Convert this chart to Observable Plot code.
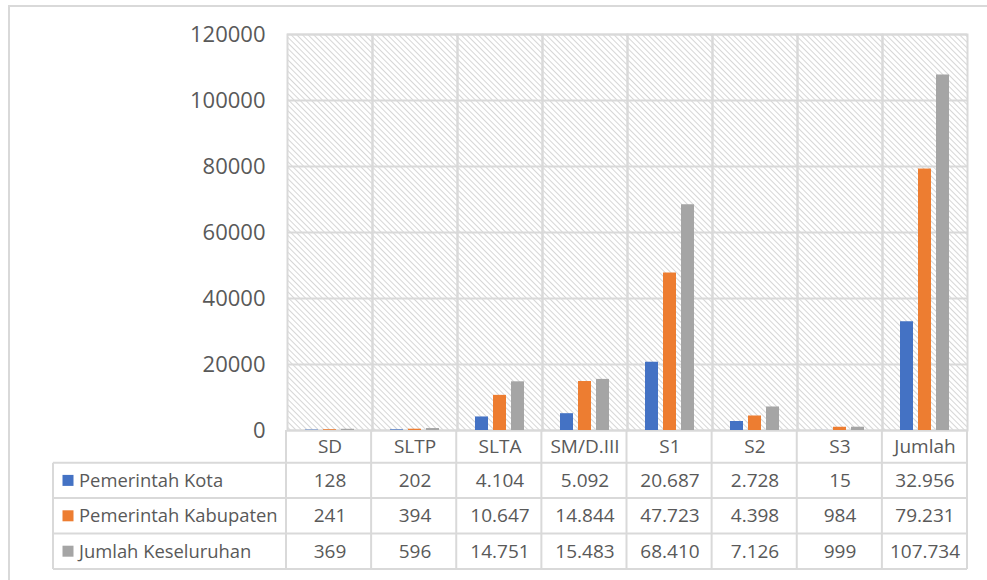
<!DOCTYPE html>
<html>
<head>
<meta charset="utf-8">
<script src="https://cdn.jsdelivr.net/npm/d3@7"></script>
<script src="https://cdn.jsdelivr.net/npm/@observablehq/plot@0.6"></script>
<style>
  html, body { margin: 0; padding: 0; background: #fff; overflow: hidden; }
  #wrap { position: relative; width: 987px; height: 580px; }
  #border { position: absolute; left: 8px; top: 5px; width: 1000px; height: 600px; border: 2px solid #d9d9d9; box-sizing: border-box; pointer-events: none; }
  #chart { position: absolute; left: 0; top: 0; }
</style>
</head>
<body>
<div id="wrap"><div id="border"></div><div id="chart"></div></div>
<script>
const categories = ["SD", "SLTP", "SLTA", "SM/D.III", "S1", "S2", "S3", "Jumlah"];
const series = ["Pemerintah Kota", "Pemerintah Kabupaten", "Jumlah Keseluruhan"];
const pemerintahKota = [128, 202, 4104, 5092, 20687, 2728, 15, 32956];
const pemerintahKabupaten = [241, 394, 10647, 14844, 47723, 4398, 984, 79231];
const jumlahKeseluruhan = [369, 596, 14751, 15483, 68410, 7126, 999, 107734];
const seriesColors = ["#4472C4", "#ED7D31", "#A5A5A5"];
const yDomain = [0, 120000];

const seriesValues = [pemerintahKota, pemerintahKabupaten, jumlahKeseluruhan];
const cells = categories.flatMap((c, i) => series.map((s, j) => ({category: c, series: s, value: seriesValues[j][i]})));

const idFormat = d3.formatLocale({decimal: ",", thousands: ".", grouping: [3], currency: ["", ""]}).format(",d");

const textColor = "#595959";
const gridColor = "#d9d9d9";
const font = "'Open Sans', sans-serif";

// table layout
const headerH = 32.7, rowH = 35.4, tableLeft = 53;

const rowMarks = series.map((s, j) => Plot.text(cells.filter(d => d.series === s), {
  fx: "category", text: d => idFormat(d.value), frameAnchor: "bottom", lineAnchor: "middle",
  dy: headerH + rowH * j + rowH / 2, fontSize: 19, fill: textColor
}));

const plot = Plot.plot({
  width: 987, height: 580,
  marginLeft: 286, marginRight: 20, marginTop: 34, marginBottom: 150,
  style: {fontFamily: font, fontSize: "22px", color: textColor, background: "transparent"},
  fx: {domain: categories, padding: 0, axis: null, label: null},
  x: {domain: series, paddingInner: 0.29, paddingOuter: 0.885, axis: null},
  y: {domain: yDomain, ticks: 6, tickSize: 0, tickPadding: 22, tickFormat: "d", label: null},
  color: {domain: series, range: seriesColors},
  marks: [
    Plot.frame({fill: "url(#hatch)"}),
    Plot.ruleY(d3.ticks(yDomain[0], yDomain[1], 6), {stroke: gridColor, strokeWidth: 2}),
    Plot.frame({stroke: gridColor, strokeWidth: 2}),
    Plot.barY(cells, {fx: "category", x: "series", y: "value", fill: "series"}),
    Plot.text(categories, {fx: d => d, text: d => d, frameAnchor: "bottom", lineAnchor: "middle", dy: headerH / 2, fontSize: 19, fill: textColor}),
    ...rowMarks
  ]
});

document.getElementById("chart").appendChild(plot);

const svg = d3.select(plot.tagName.toLowerCase() === "svg" ? plot : plot.querySelector("svg"));

// hatch pattern
const defs = svg.insert("defs", ":first-child");
const pat = defs.append("pattern").attr("id", "hatch").attr("patternUnits", "userSpaceOnUse")
  .attr("width", 4).attr("height", 4).attr("patternTransform", "rotate(-45)");
pat.append("rect").attr("width", 4).attr("height", 4).attr("fill", "#ffffff");
pat.append("line").attr("x1", 0.5).attr("x2", 0.5).attr("y1", 0).attr("y2", 4)
  .attr("stroke", "#d6d6d6").attr("stroke-width", 1);

// table grid using Plot's scales
const fxs = plot.scale("fx");
const ys = plot.scale("y");
const fxBand = d3.scaleBand().domain(fxs.domain).range(fxs.range).padding(0);
const yLin = d3.scaleLinear().domain(ys.domain).range(ys.range);
const y0 = yLin(0);
const xRight = fxBand.range()[1];
const yBottom = y0 + headerH + rowH * series.length;

const tg = svg.append("g").attr("stroke", gridColor).attr("stroke-width", 2).attr("fill", "none");
const bounds = categories.map(c => fxBand(c)).concat([xRight]);
bounds.forEach(x => tg.append("line").attr("x1", x).attr("x2", x).attr("y1", y0).attr("y2", yBottom));
tg.append("line").attr("x1", tableLeft).attr("x2", tableLeft).attr("y1", y0 + headerH).attr("y2", yBottom);
for (let j = 0; j <= series.length; j++) {
  const yy = y0 + headerH + rowH * j;
  tg.append("line").attr("x1", tableLeft).attr("x2", xRight).attr("y1", yy).attr("y2", yy);
}

// legend keys in table
const lg = svg.append("g").attr("font-family", font).attr("font-size", 18.4).attr("fill", textColor).attr("text-anchor", "start");
series.forEach((s, j) => {
  const cy = y0 + headerH + rowH * j + rowH / 2;
  lg.append("rect").attr("x", tableLeft + 9.5).attr("y", cy - 5.5).attr("width", 11).attr("height", 11).attr("fill", seriesColors[j]);
  lg.append("text").attr("x", tableLeft + 26).attr("y", cy).attr("dy", "0.35em").attr("text-anchor", "start").text(s);
});
</script>
</body>
</html>
